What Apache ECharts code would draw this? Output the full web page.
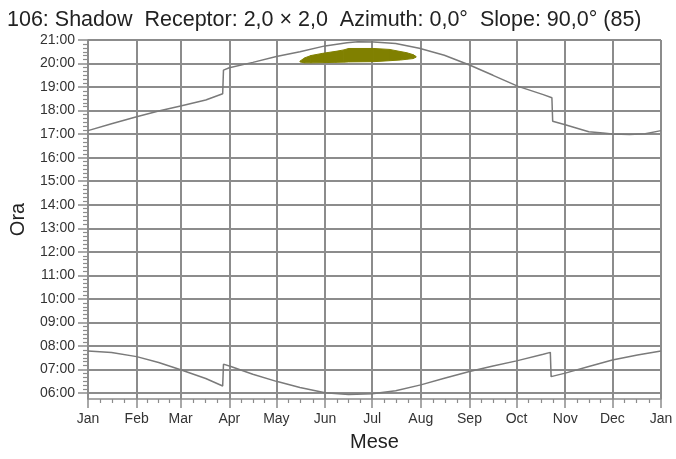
<!DOCTYPE html>
<html>
  <head>
    <meta charset="UTF-8">
    <title>Shadow Receptor</title>
    <script src="https://cdn.jsdelivr.net/npm/echarts@6/dist/echarts.min.js"></script>
  </head>
  <body style="margin:0">
    <div id="box" style="width:676px;height:459px"></div>
    <script>
        // giorno dell'anno -> ora (decimale)
        var monthStarts = [0, 31, 59, 90, 120, 151, 181, 212, 243, 273, 304, 334, 365];
        var monthLabels = ['Jan', 'Feb', 'Mar', 'Apr', 'May', 'Jun', 'Jul', 'Aug', 'Sep', 'Oct', 'Nov', 'Dec', 'Jan'];
        var hourTicks = [6, 7, 8, 9, 10, 11, 12, 13, 14, 15, 16, 17, 18, 19, 20, 21];

        // tramonto
        var sunsetDays  = [0, 15, 31, 45, 59, 75, 85.8, 86.3, 90, 105, 120, 135, 151, 165, 172, 182, 196, 211, 227, 243, 258, 274, 290, 295.5, 296, 304, 319, 328, 334, 345, 355, 365];
        var sunsetHours = [17.15, 17.44, 17.74, 17.98, 18.2, 18.45, 18.72, 19.72, 19.82, 20.05, 20.3, 20.5, 20.75, 20.88, 20.93, 20.92, 20.85, 20.65, 20.35, 19.94, 19.5, 19.03, 18.68, 18.55, 17.55, 17.4, 17.1, 17.05, 17.01, 16.99, 17.02, 17.15];

        // alba
        var sunriseDays  = [0, 15, 31, 45, 59, 75, 85.8, 86.3, 91, 105, 120, 135, 151, 166, 181, 196, 212, 227, 243, 258, 273, 290, 294.5, 295, 304, 319, 334, 350, 365];
        var sunriseHours = [7.79, 7.73, 7.55, 7.3, 6.99, 6.62, 6.3, 7.23, 7.13, 6.8, 6.5, 6.24, 6.02, 5.94, 5.97, 6.1, 6.35, 6.63, 6.92, 7.15, 7.37, 7.65, 7.73, 6.7, 6.85, 7.13, 7.41, 7.62, 7.79];

        // ombra
        var blobDays = [135, 138, 142, 150, 158, 163, 166, 182, 192, 199, 203, 207, 209];
        var blobLow  = [20.07, 20.03, 20.03, 20.04, 20.05, 20.06, 20.07, 20.08, 20.12, 20.15, 20.18, 20.21, 20.27];
        var blobHigh = [20.10, 20.24, 20.34, 20.44, 20.52, 20.58, 20.64, 20.64, 20.6, 20.51, 20.46, 20.38, 20.3];

        function pairs(xs, ys) {
            return xs.map(function (x, i) { return [x, ys[i]]; });
        }
        // tacche minori: 3 per mese, ogni 10 minuti
        var minorX = [];
        for (var m = 0; m < monthStarts.length - 1; m++) {
            var len = monthStarts[m + 1] - monthStarts[m];
            for (var k = 1; k < 4; k++) minorX.push(monthStarts[m] + len * k / 4);
        }
        var minorY = [];
        for (var h = 6; h < 21; h++) {
            for (var j = 1; j < 6; j++) minorY.push(h + j / 6);
        }

        var grey = '#8c8c8c';
        var txt = {color: '#333', fontSize: 14, fontFamily: 'Liberation Sans'};

        var myChart = echarts.init(document.getElementById('box'));
        myChart.setOption({
            animation: false,
            title: {
                text: '106: Shadow  Receptor: 2,0 × 2,0  Azimuth: 0,0°  Slope: 90,0° (85)',
                left: 2, top: 4,
                textStyle: {color: '#222', fontSize: 21.5, fontWeight: 'normal', fontFamily: 'Liberation Sans'}
            },
            grid: {left: 87, right: 15, top: 40, bottom: 60},
            xAxis: [{
                type: 'value', min: 0, max: 365,
                name: 'Mese', nameLocation: 'middle', nameGap: 33,
                nameTextStyle: {color: '#222', fontSize: 20, fontFamily: 'Liberation Sans'},
                axisLine: {lineStyle: {color: grey, width: 1.5}},
                axisTick: {customValues: monthStarts, length: 9, lineStyle: {color: grey, width: 1.5}},
                axisLabel: {
                    customValues: monthStarts, margin: 13, color: txt.color, fontSize: txt.fontSize, fontFamily: txt.fontFamily,
                    formatter: function (v) { return monthLabels[monthStarts.indexOf(v)]; }
                },
                splitLine: {show: true, lineStyle: {color: grey, width: 2}}
            }, {
                type: 'value', min: 0, max: 365, position: 'bottom',
                axisLine: {show: false},
                axisTick: {customValues: minorX, length: 4, lineStyle: {color: grey, width: 1.2}},
                axisLabel: {show: false},
                splitLine: {show: false}
            }],
            yAxis: [{
                type: 'value', min: 5.75, max: 21,
                name: 'Ora', nameLocation: 'middle', nameGap: 60,
                nameTextStyle: {color: '#222', fontSize: 20, fontFamily: 'Liberation Sans'},
                axisLine: {show: true, lineStyle: {color: grey, width: 1.5}},
                axisTick: {show: true, customValues: hourTicks, length: 10, lineStyle: {color: grey, width: 1.5}},
                axisLabel: {
                    customValues: hourTicks, margin: 13, color: txt.color, fontSize: txt.fontSize, fontFamily: txt.fontFamily,
                    formatter: function (v) { return (v < 10 ? '0' : '') + v + ':00'; }
                },
                splitLine: {show: true, lineStyle: {color: grey, width: 2}}
            }, {
                type: 'value', min: 5.75, max: 21, position: 'left',
                axisLine: {show: false},
                axisTick: {show: true, customValues: minorY, length: 5, lineStyle: {color: grey, width: 1.2}},
                axisLabel: {show: false},
                splitLine: {show: false}
            }],
            series: [{
                name: 'Tramonto', type: 'line', showSymbol: false, silent: true,
                lineStyle: {color: '#7a7a7a', width: 1.5},
                data: pairs(sunsetDays, sunsetHours)
            }, {
                name: 'Alba', type: 'line', showSymbol: false, silent: true,
                lineStyle: {color: '#7a7a7a', width: 1.5},
                data: pairs(sunriseDays, sunriseHours)
            }, {
                name: 'Ombra', type: 'custom', silent: true,
                encode: {x: 0, y: [1, 2]},
                data: blobDays.map(function (d, i) { return [d, blobLow[i], blobHigh[i]]; }),
                renderItem: function (params, api) {
                    var i = params.dataIndex;
                    if (i >= blobDays.length - 1) return;
                    return {
                        type: 'polygon',
                        shape: {points: [
                            api.coord([blobDays[i], blobLow[i]]),
                            api.coord([blobDays[i + 1], blobLow[i + 1]]),
                            api.coord([blobDays[i + 1], blobHigh[i + 1]]),
                            api.coord([blobDays[i], blobHigh[i]])
                        ]},
                        style: {fill: '#808000', stroke: '#808000', lineWidth: 1}
                    };
                }
            }]
        });
    </script>
  </body>
</html>
